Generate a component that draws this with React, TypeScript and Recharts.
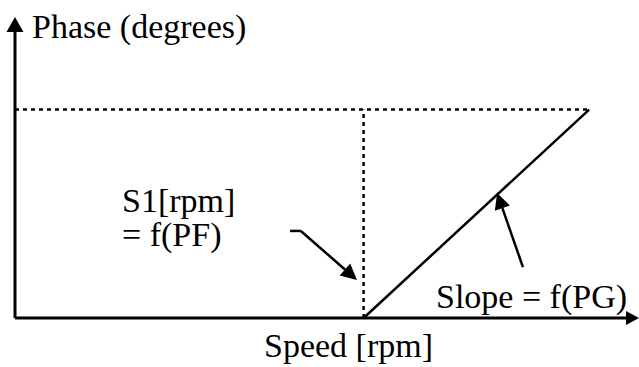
import React from "react";
import { LineChart, Line, XAxis, YAxis, ReferenceLine } from "recharts";

// speed axis (rpm) and phase axis (degrees)
const speedRange = [0, 1790];
const phaseRange = [0, 130];
const s1Speed = 1000;
const maxPhase = 90;
const slopeSpeeds = [1000, 1647];
const slopePhases = [0, 90];

// annotation arrows, in chart units
const s1Stub = [
  { x: 789, y: 37.6 },
  { x: 820, y: 37.6 },
];
const s1Arrow = [
  { x: 820, y: 37.6 },
  { x: 981, y: 16.4 },
];
const slopeArrow = [
  { x: 1457, y: 22 },
  { x: 1383, y: 54 },
];

const data = slopeSpeeds.map((s, i) => ({ speed: s, phase: slopePhases[i] }));

const font = "'Liberation Serif', 'Times New Roman', serif";

const arrowShape =
  (len: number, half: number, width: number) => (props: any) => {
    const { x1, y1, x2, y2 } = props;
    const a = Math.atan2(y2 - y1, x2 - x1);
    const bx = x2 - len * Math.cos(a);
    const by = y2 - len * Math.sin(a);
    const px = -Math.sin(a) * half;
    const py = Math.cos(a) * half;
    return (
      <g>
        <line x1={x1} y1={y1} x2={bx} y2={by} stroke="#000" strokeWidth={width} />
        <polygon
          points={`${x2},${y2} ${bx + px},${by + py} ${bx - px},${by - py}`}
          fill="#000"
        />
      </g>
    );
  };

export default function App() {
  return (
    <div style={{ position: "absolute", left: 0, top: 0, background: "#fff" }}>
      <LineChart
        width={639}
        height={367}
        data={data}
        margin={{ top: 17, right: 0, bottom: 49, left: 15 }}
      >
        <XAxis type="number" dataKey="speed" domain={speedRange} hide />
        <YAxis type="number" domain={phaseRange} hide />

        {/* dotted guides */}
        <ReferenceLine
          segment={[
            { x: 0, y: maxPhase },
            { x: slopeSpeeds[1], y: maxPhase },
          ]}
          stroke="#000"
          strokeWidth={2.5}
          strokeDasharray="4 4"
          ifOverflow="visible"
        />
        <ReferenceLine
          segment={[
            { x: s1Speed, y: 0 },
            { x: s1Speed, y: maxPhase },
          ]}
          stroke="#000"
          strokeWidth={2.5}
          strokeDasharray="4 4"
          ifOverflow="visible"
        />

        {/* axes with arrowheads */}
        <ReferenceLine
          segment={[
            { x: 0, y: 0 },
            { x: speedRange[1], y: 0 },
          ]}
          shape={arrowShape(13, 7, 3)}
          ifOverflow="visible"
        />
        <ReferenceLine
          segment={[
            { x: 0, y: 0 },
            { x: 0, y: phaseRange[1] },
          ]}
          shape={arrowShape(15, 8.5, 3)}
          ifOverflow="visible"
        />

        <Line
          dataKey="phase"
          stroke="#000"
          strokeWidth={2.5}
          dot={false}
          activeDot={false}
          isAnimationActive={false}
        />

        {/* annotation arrows */}
        <ReferenceLine segment={s1Stub} stroke="#000" strokeWidth={2.5} ifOverflow="visible" />
        <ReferenceLine segment={s1Arrow} shape={arrowShape(16, 8, 2.5)} ifOverflow="visible" />
        <ReferenceLine segment={slopeArrow} shape={arrowShape(16, 8, 2.5)} ifOverflow="visible" />

        <text x={32} y={38} fontFamily={font} fontSize={34} fill="#000">
          Phase (degrees)
        </text>
        <text x={122} y={212} fontFamily={font} fontSize={34} fill="#000">
          S1[rpm]
        </text>
        <text x={122} y={246} fontFamily={font} fontSize={34} fill="#000">
          = f(PF)
        </text>
        <text x={436} y={308} fontFamily={font} fontSize={34} fill="#000">
          Slope = f(PG)
        </text>
        <text x={264} y={357} fontFamily={font} fontSize={34} fill="#000">
          Speed [rpm]
        </text>
      </LineChart>
    </div>
  );
}
